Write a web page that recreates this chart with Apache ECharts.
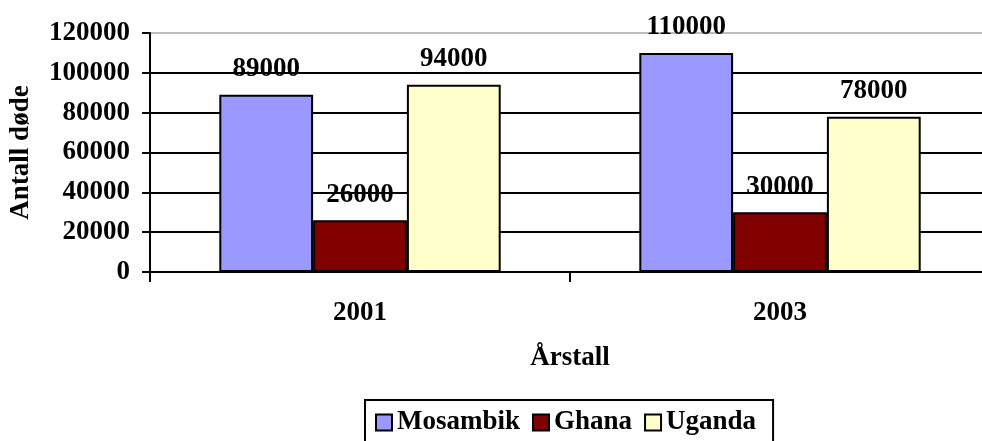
<!DOCTYPE html>
<html>
<head>
<meta charset="utf-8">
<script src="https://cdn.jsdelivr.net/npm/echarts@6/dist/echarts.min.js"></script>
<style>html,body{margin:0;padding:0;background:#fff}#c{width:982px;height:441px}</style>
</head>
<body>
<div id="c"></div>
<script>
var categories = ['2001', '2003'];
var mosambik = [89000, 110000];
var ghana = [26000, 30000];
var uganda = [94000, 78000];
var yTicks = [0, 20000, 40000, 60000, 80000, 100000, 120000];

var FONT = '"Liberation Serif", "Times New Roman", serif';
var FS = 27;
var chart = echarts.init(document.getElementById('c'));
function mk(name, data, color) {
  return {
    name: name, type: 'bar', data: data, barGap: '0%', barCategoryGap: '33%',
    itemStyle: { color: color, borderColor: '#000', borderWidth: 2 },
    label: { show: true, position: 'top', distance: 12, color: '#000',
      fontFamily: FONT, fontWeight: 'bold', fontSize: FS }
  };
}
chart.setOption({
  animation: false,
  backgroundColor: '#fff',
  grid: { left: 150, right: -8, top: 33, bottom: 169, containLabel: false, outerBoundsMode: 'none' },
  legend: {
    left: 365, top: 400,
    data: ['Mosambik', 'Ghana', 'Uganda'],
    icon: 'rect', itemWidth: 16, itemHeight: 16, itemGap: 12,
    padding: [9, 17, 9, 10],
    borderColor: '#000', borderWidth: 2,
    itemStyle: { borderColor: '#000', borderWidth: 2 },
    textStyle: { fontFamily: FONT, fontWeight: 'bold', fontSize: FS, color: '#000', padding: [0, 0, 0, 0] }
  },
  xAxis: {
    type: 'category', data: categories,
    name: 'Årstall', nameLocation: 'middle', nameGap: 73,
    nameTextStyle: { fontFamily: FONT, fontWeight: 'bold', fontSize: FS, color: '#000' },
    axisLine: { lineStyle: { color: '#000', width: 2 } },
    axisTick: { show: true, length: 10, lineStyle: { color: '#000', width: 2 } },
    axisLabel: { margin: 28, fontFamily: FONT, fontWeight: 'bold', fontSize: FS, color: '#000' }
  },
  yAxis: {
    type: 'value', min: yTicks[0], max: yTicks[yTicks.length - 1], interval: 20000,
    name: 'Antall døde', nameLocation: 'middle', nameGap: 115, nameRotate: 90,
    nameTextStyle: { fontFamily: FONT, fontWeight: 'bold', fontSize: FS, color: '#000' },
    axisLine: { show: true, lineStyle: { color: '#000', width: 2 } },
    axisTick: { show: true, length: 8, lineStyle: { color: '#000', width: 2 } },
    splitLine: { show: true, lineStyle: { color: ['#000', '#000', '#000', '#000', '#000', '#000', '#bdbdbd'], width: 2 } },
    axisLabel: { margin: 20, fontFamily: FONT, fontWeight: 'bold', fontSize: FS, color: '#000',
      formatter: function (v) { return String(v); } }
  },
  series: [
    mk('Mosambik', mosambik, '#9999ff'),
    mk('Ghana', ghana, '#800000'),
    mk('Uganda', uganda, '#ffffcc')
  ]
});
</script>
</body>
</html>
